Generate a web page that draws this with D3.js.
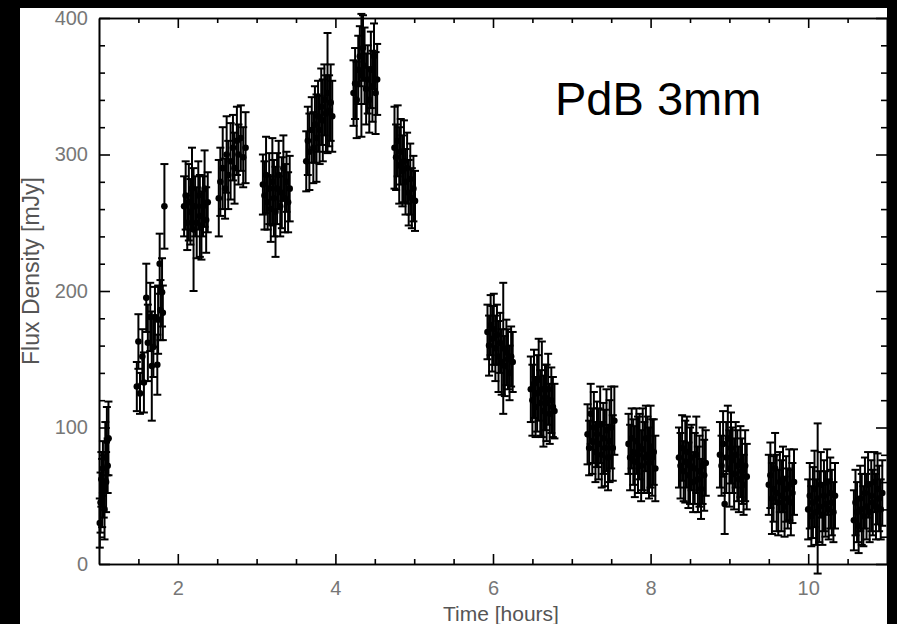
<!DOCTYPE html>
<html>
<head>
  <meta charset="utf-8">
  <script src="https://cdn.jsdelivr.net/npm/d3@7"></script>
  <style>
    body { margin: 0; background: #000; }
    .tick text { font-family: "Liberation Sans", sans-serif; font-size: 20px; fill: #777; }
    .axis path, .axis line { stroke: #000; stroke-width: 1.6; }
  </style>
</head>
<body>
<svg id="chart" width="897" height="624"></svg>
<script>
// observation time (hours), one line per scan block
var time = [
  1.01, 1.02, 1.03, 1.04, 1.05, 1.06, 1.07, 1.08, 1.09, 1.10, 1.11, 1.12,
  1.48, 1.50, 1.52, 1.55, 1.57, 1.60, 1.62, 1.65, 1.67, 1.69, 1.71, 1.74, 1.75, 1.77, 1.78, 1.80, 1.81, 1.83,
  2.08, 2.10, 2.12, 2.14, 2.16, 2.18, 2.20, 2.22, 2.24, 2.26, 2.28, 2.30, 2.32, 2.34, 2.36, 2.38,
  2.52, 2.54, 2.57, 2.60, 2.62, 2.64, 2.67, 2.70, 2.72, 2.75, 2.77, 2.80, 2.83, 2.86,
  3.08, 3.10, 3.12, 3.14, 3.16, 3.18, 3.20, 3.22, 3.24, 3.26, 3.28, 3.30, 3.32, 3.34, 3.36, 3.38, 3.40, 3.42,
  3.63, 3.65, 3.67, 3.70, 3.72, 3.74, 3.76, 3.78, 3.80, 3.82, 3.84, 3.86, 3.88, 3.90, 3.92, 3.94, 3.96,
  4.23, 4.25, 4.27, 4.29, 4.31, 4.33, 4.35, 4.37, 4.39, 4.41, 4.43, 4.45, 4.47, 4.49, 4.51, 4.53,
  4.75, 4.77, 4.79, 4.81, 4.83, 4.85, 4.87, 4.89, 4.91, 4.93, 4.95, 4.97, 4.99, 5.01,
  5.93, 5.95, 5.97, 5.99, 6.01, 6.03, 6.05, 6.07, 6.09, 6.11, 6.13, 6.15, 6.17, 6.19, 6.21, 6.23, 6.25,
  6.48, 6.50, 6.52, 6.54, 6.56, 6.58, 6.60, 6.62, 6.64, 6.66, 6.68, 6.70, 6.72, 6.74, 6.76, 6.78,
  7.20, 7.22, 7.24, 7.26, 7.28, 7.30, 7.32, 7.34, 7.36, 7.38, 7.40, 7.42, 7.44, 7.46, 7.48, 7.50, 7.52, 7.54,
  7.72, 7.74, 7.76, 7.78, 7.80, 7.82, 7.84, 7.86, 7.88, 7.90, 7.92, 7.94, 7.96, 7.98, 8.00, 8.02, 8.04, 8.06,
  8.36, 8.38, 8.40, 8.42, 8.44, 8.46, 8.48, 8.50, 8.52, 8.54, 8.56, 8.58, 8.60, 8.62, 8.64, 8.66, 8.68, 8.70,
  8.88, 8.90, 8.92, 8.94, 8.96, 8.98, 9.00, 9.02, 9.04, 9.06, 9.08, 9.10, 9.12, 9.14, 9.16, 9.18, 9.20, 9.22,
  9.50, 9.52, 9.54, 9.56, 9.58, 9.60, 9.62, 9.64, 9.66, 9.68, 9.70, 9.72, 9.74, 9.76, 9.78, 9.80, 9.82,
  10.00, 10.02, 10.04, 10.06, 10.08, 10.10, 10.12, 10.14, 10.16, 10.18, 10.20, 10.22, 10.24, 10.26, 10.28, 10.30, 10.32, 10.34,
  10.58, 10.60, 10.62, 10.64, 10.66, 10.68, 10.70, 10.72, 10.74, 10.76, 10.78, 10.80, 10.82, 10.84, 10.86, 10.88, 10.90, 10.92, 10.94
];

// flux density (mJy)
var flux = [
  30, 45, 62, 52, 70, 58, 40, 78, 60, 90, 72, 92,
  130, 163, 125, 152, 133, 195, 162, 181, 145, 159, 181, 146, 179, 220, 186, 199, 184, 262,
  262, 270, 250, 265, 258, 275, 245, 262, 250, 270, 255, 248, 262, 275, 252, 265,
  268, 280, 290, 275, 300, 285, 295, 305, 290, 310, 300, 312, 298, 305,
  278, 270, 285, 265, 275, 260, 280, 268, 258, 275, 285, 262, 272, 290, 268, 280, 265, 275,
  295, 310, 302, 318, 305, 322, 312, 328, 318, 335, 325, 340, 330, 345, 332, 338, 328,
  345, 352, 340, 362, 372, 358, 378, 365, 348, 355, 340, 362, 350, 372, 345, 355,
  305, 298, 310, 292, 302, 288, 295, 280, 290, 272, 282, 268, 275, 266,
  170, 160, 175, 165, 172, 158, 168, 152, 162, 148, 158, 145, 155, 150, 140, 152, 148,
  128, 120, 132, 115, 125, 135, 118, 128, 112, 122, 118, 128, 110, 120, 115, 112,
  95, 85, 110, 90, 100, 82, 95, 88, 102, 80, 92, 85, 98, 78, 90, 100, 85, 105,
  88, 78, 92, 82, 75, 90, 80, 86, 72, 84, 78, 92, 80, 74, 86, 78, 82, 70,
  78, 72, 85, 68, 75, 82, 65, 72, 78, 60, 70, 80, 62, 68, 55, 72, 65, 74,
  80, 72, 88, 44, 78, 92, 70, 85, 76, 66, 80, 72, 62, 75, 68, 58, 72, 64,
  58, 65, 48, 55, 70, 52, 45, 60, 50, 62, 42, 55, 48, 58, 45, 52, 60,
  40, 50, 35, 45, 55, 38, 48, 42, 58, 36, 50, 44, 60, 40, 52, 45, 38, 50,
  32, 45, 38, 28, 48, 40, 35, 52, 42, 58, 38, 50, 45, 60, 42, 55, 48, 40, 52
];

// 1-sigma error (mJy)
var fluxErr = [
  18, 22, 20, 25, 20, 24, 22, 26, 22, 25, 20, 27,
  18, 20, 15, 20, 22, 25, 28, 25, 40, 22, 22, 22, 25, 22, 22, 25, 20, 31,
  22, 25, 20, 28, 24, 30, 45, 22, 26, 25, 30, 25, 22, 28, 24, 22,
  28, 25, 30, 22, 28, 25, 28, 24, 26, 25, 22, 24, 22, 26,
  22, 25, 28, 20, 26, 24, 32, 28, 33, 26, 25, 22, 26, 24, 25, 22, 22, 24,
  22, 25, 28, 24, 26, 28, 32, 26, 25, 28, 30, 26, 28, 44, 26, 28, 26,
  24, 26, 28, 25, 22, 45, 24, 28, 26, 25, 24, 28, 26, 24, 30, 26,
  30, 24, 26, 28, 24, 26, 30, 24, 26, 24, 26, 22, 24, 22,
  20, 22, 22, 24, 26, 24, 22, 26, 22, 24, 48, 22, 24, 22, 20, 22, 22,
  24, 26, 25, 22, 28, 30, 24, 35, 26, 24, 28, 26, 22, 24, 22, 20,
  22, 20, 22, 24, 26, 22, 24, 26, 28, 24, 26, 28, 30, 24, 30, 30, 24, 25,
  22, 24, 22, 24, 26, 24, 28, 24, 26, 30, 26, 24, 28, 26, 30, 28, 24, 24,
  22, 24, 24, 22, 30, 26, 24, 28, 24, 22, 26, 28, 24, 26, 22, 28, 26, 24,
  24, 22, 24, 22, 26, 24, 28, 26, 24, 26, 24, 26, 24, 26, 24, 22, 26, 24,
  22, 24, 26, 24, 26, 28, 24, 22, 26, 24, 22, 24, 22, 26, 24, 22, 24,
  22, 24, 22, 26, 28, 24, 55, 26, 24, 22, 26, 24, 24, 22, 26, 24, 22, 24,
  22, 24, 22, 20, 24, 26, 22, 26, 24, 24, 22, 26, 24, 22, 24, 26, 24, 22, 24
];

var xMajor = [2, 4, 6, 8, 10];
var yMajor = [0, 100, 200, 300, 400];

var svg = d3.select('#chart');

// white sheet on the black page
svg.append('rect')
  .attr('x', 20).attr('y', 8)
  .attr('width', 867).attr('height', 616)
  .attr('fill', '#fff');

var margin = { left: 99, right: 887, top: 18, bottom: 564 };

var x = d3.scaleLinear().domain([1, 11]).range([margin.left, margin.right]);
var y = d3.scaleLinear().domain([0, 400]).range([margin.bottom, margin.top]);

var xMinor = d3.range(1.5, 11, 0.5).filter(v => xMajor.indexOf(v) < 0);
var yMinor = d3.range(20, 400, 20).filter(v => yMajor.indexOf(v) < 0);

var data = time.map((t, i) => ({ t: t, f: flux[i], e: fluxErr[i] }));

// error bars + points
var g = svg.append('g');
var cap = 4;

var bars = g.selectAll('.eb')
  .data(data)
  .enter()
  .append('g')
  .attr('class', 'eb')
  .attr('stroke', '#000')
  .attr('stroke-width', 2);

bars.append('line')
  .attr('x1', d => x(d.t)).attr('x2', d => x(d.t))
  .attr('y1', d => y(d.f - d.e)).attr('y2', d => y(d.f + d.e));
bars.append('line')
  .attr('x1', d => x(d.t) - cap).attr('x2', d => x(d.t) + cap)
  .attr('y1', d => y(d.f + d.e)).attr('y2', d => y(d.f + d.e));
bars.append('line')
  .attr('x1', d => x(d.t) - cap).attr('x2', d => x(d.t) + cap)
  .attr('y1', d => y(d.f - d.e)).attr('y2', d => y(d.f - d.e));

g.selectAll('circle')
  .data(data)
  .enter()
  .append('circle')
  .attr('cx', d => x(d.t))
  .attr('cy', d => y(d.f))
  .attr('r', 3.3)
  .attr('fill', '#000');

// axes, ticks pointing inward
function addAxis(axis, tx, ty) {
  return svg.append('g')
    .attr('class', 'axis')
    .attr('transform', 'translate(' + tx + ',' + ty + ')')
    .call(axis);
}

addAxis(d3.axisBottom(x).tickValues(xMinor).tickSize(-5).tickSizeOuter(0).tickFormat(''), 0, margin.bottom);
addAxis(d3.axisBottom(x).tickValues(xMajor).tickSize(-10).tickSizeOuter(0).tickPadding(17).tickFormat(d3.format('d')), 0, margin.bottom);
addAxis(d3.axisTop(x).tickValues(xMinor).tickSize(-5).tickSizeOuter(0).tickFormat(''), 0, margin.top);
addAxis(d3.axisTop(x).tickValues(xMajor).tickSize(-10).tickSizeOuter(0).tickFormat(''), 0, margin.top);

addAxis(d3.axisLeft(y).tickValues(yMinor).tickSize(-6).tickSizeOuter(0).tickFormat(''), margin.left, 0);
addAxis(d3.axisLeft(y).tickValues(yMajor).tickSize(-11).tickSizeOuter(0).tickPadding(11).tickFormat(d3.format('d')), margin.left, 0);
addAxis(d3.axisRight(y).tickValues(yMinor).tickSize(-6).tickSizeOuter(0).tickFormat(''), margin.right, 0);
addAxis(d3.axisRight(y).tickValues(yMajor).tickSize(-11).tickSizeOuter(0).tickFormat(''), margin.right, 0);

// right edge of the page is black
svg.append('rect')
  .attr('x', 887).attr('y', 0)
  .attr('width', 10).attr('height', 624)
  .attr('fill', '#000');

// titles
svg.append('text')
  .attr('x', (margin.left + margin.right) / 2 + 8)
  .attr('y', 621)
  .attr('text-anchor', 'middle')
  .attr('font-family', 'Liberation Sans, sans-serif')
  .attr('font-size', 21)
  .attr('fill', '#555')
  .text('Time [hours]');

svg.append('text')
  .attr('transform', 'translate(39,271) rotate(-90)')
  .attr('text-anchor', 'middle')
  .attr('font-family', 'Liberation Sans, sans-serif')
  .attr('font-size', 23)
  .attr('fill', '#555')
  .text('Flux Density [mJy]');

svg.append('text')
  .attr('x', 555)
  .attr('y', 115)
  .attr('font-family', 'Liberation Sans, Arial, sans-serif')
  .attr('font-size', 47)
  .attr('fill', '#000')
  .text('PdB 3mm');
</script>
</body>
</html>
